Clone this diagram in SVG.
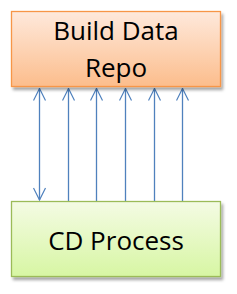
<svg xmlns="http://www.w3.org/2000/svg" width="237" height="294" viewBox="0 0 237 294">
<defs>
<linearGradient id="gOrange" x1="0" y1="0" x2="0" y2="1">
<stop offset="0" stop-color="#fee9dc"/>
<stop offset="1" stop-color="#fcbd8c"/>
</linearGradient>
<linearGradient id="gGreen" x1="0" y1="0" x2="0" y2="1">
<stop offset="0" stop-color="#f4fbe4"/>
<stop offset="1" stop-color="#d7f6a3"/>
</linearGradient>
<filter id="shadow" x="-10%" y="-10%" width="125%" height="130%">
<feGaussianBlur in="SourceAlpha" stdDeviation="1.8"/>
<feOffset dx="1.5" dy="2.5" result="b"/>
<feComponentTransfer><feFuncA type="linear" slope="0.35"/></feComponentTransfer>
<feMerge><feMergeNode/><feMergeNode in="SourceGraphic"/></feMerge>
</filter>
<marker id="arrow" viewBox="0 0 14 14" refX="13" refY="7" markerWidth="14" markerHeight="14" markerUnits="userSpaceOnUse" orient="auto-start-reverse">
<path d="M1,1 L13,7 L1,13" fill="none" stroke="#4f81bd" stroke-width="1.2"/>
</marker>
<style>
.lbl{font-family:"Open Sans","Noto Sans",sans-serif;font-size:26px;fill:#000;text-anchor:middle}
.conn{stroke:#4f81bd;stroke-width:1.3;fill:none}
</style>
</defs>
<g id="connectors">
<line class="conn" x1="39.5" y1="200" x2="39.5" y2="88.5" marker-start="url(#arrow)" marker-end="url(#arrow)"/>
<line class="conn" x1="68.5" y1="201" x2="68.5" y2="88.5" marker-end="url(#arrow)"/>
<line class="conn" x1="96.5" y1="201" x2="96.5" y2="88.5" marker-end="url(#arrow)"/>
<line class="conn" x1="125.5" y1="201" x2="125.5" y2="88.5" marker-end="url(#arrow)"/>
<line class="conn" x1="154.5" y1="201" x2="154.5" y2="88.5" marker-end="url(#arrow)"/>
<line class="conn" x1="182.5" y1="201" x2="182.5" y2="88.5" marker-end="url(#arrow)"/>
</g>
<g id="build-data-repo">
<rect x="11.5" y="11.5" width="209" height="75" fill="url(#gOrange)" stroke="#f79646" stroke-width="1.3" filter="url(#shadow)"/>
<text class="lbl" x="116" y="39.5">Build Data</text>
<text class="lbl" x="116" y="77">Repo</text>
</g>
<g id="cd-process">
<rect x="11.5" y="201.5" width="209" height="75" fill="url(#gGreen)" stroke="#9bbb59" stroke-width="1.3" filter="url(#shadow)"/>
<text class="lbl" x="116" y="249.5">CD Process</text>
</g>
</svg>
